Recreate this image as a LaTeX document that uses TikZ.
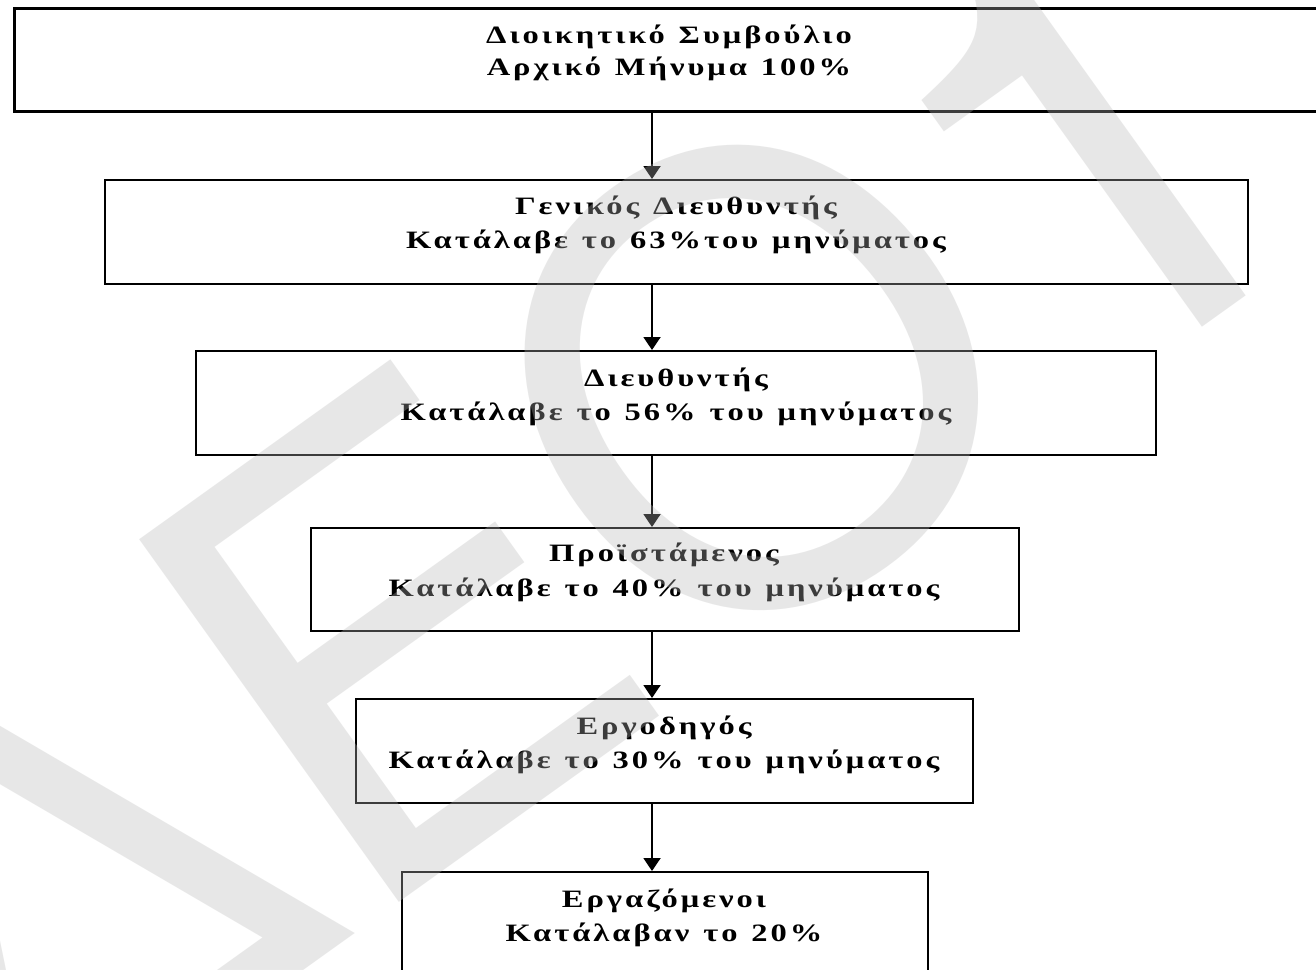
\documentclass[tikz,border=0pt]{standalone}
\usepackage{fontspec}
\usetikzlibrary{arrows.meta}
\setmainfont{Liberation Serif}
\newfontfamily\wmfont{TeX Gyre Heros}
\newfontfamily\boxfont{Liberation Serif}[FakeStretch=1.3,LetterSpace=12,WordSpace=1.25]
\begin{document}
\begin{tikzpicture}[x=1pt,y=-1pt,
  box/.style={draw=black, line width=2pt, inner sep=0pt, anchor=north west},
  ln/.style={font=\boxfont\bfseries\fontsize{25}{30}\selectfont, inner sep=0pt, anchor=base},
  arr/.style={line width=2pt, -{Triangle[width=17pt,length=13pt]}},
  wmark/.style={font=\wmfont\fontsize{612}{612}\selectfont, text=black!28, text opacity=0.33,
      rotate=35.6, anchor=base west, inner sep=0pt}]
\useasboundingbox (0,0) rectangle (1316,969);
\fill[white] (0,0) rectangle (1316,969);
\clip (0,0) rectangle (1316,969);
% boxes
\node[box, line width=2.8pt, minimum width=1312pt, minimum height=103pt] (b1) at (13,7) {};
\node[box, minimum width=1143pt, minimum height=104pt] (b2) at (104,179) {};
\node[box, minimum width=960pt, minimum height=104pt] (b3) at (195,350) {};
\node[box, minimum width=708pt, minimum height=103pt] (b4) at (310,527) {};
\node[box, minimum width=617pt, minimum height=104pt] (b5) at (355,698) {};
\node[box, minimum width=526pt, minimum height=130pt] (b6) at (401,871) {};
% texts
\node[ln] (t1a) at (669,43) {Διοικητικό Συμβούλιο};
\node[ln] (t1b) at (669,75) {Αρχικό Μήνυμα 100\%};
\node[ln] (t2a) at (676,214) {Γενικός Διευθυντής};
\node[ln] (t2b) at (676,248) {Κατάλαβε το 63\%του μηνύματος};
\node[ln] (t3a) at (676,386) {Διευθυντής};
\node[ln] (t3b) at (676,420) {Κατάλαβε το 56\% του μηνύματος};
\node[ln] (t4a) at (664,561) {Προϊστάμενος};
\node[ln] (t4b) at (664,596) {Κατάλαβε το 40\% του μηνύματος};
\node[ln] (t5a) at (664,734) {Εργοδηγός};
\node[ln] (t5b) at (664,768) {Κατάλαβε το 30\% του μηνύματος};
\node[ln] (t6a) at (664,907) {Εργαζόμενοι};
\node[ln] (t6b) at (664,941) {Κατάλαβαν το 20\%};
% connectors
\coordinate (ax) at (652,0);
\draw[arr] (b1.south -| ax) -- (b2.north -| ax);
\draw[arr] (b2.south -| ax) -- (b3.north -| ax);
\draw[arr] (b3.south -| ax) -- (b4.north -| ax);
\draw[arr] (b4.south -| ax) -- (b5.north -| ax);
\draw[arr] (b5.south -| ax) -- (b6.north -| ax);
% watermark
\node[wmark] (wm) at (0.4,1188) {ΔΕΟ1};
\end{tikzpicture}
\end{document}
